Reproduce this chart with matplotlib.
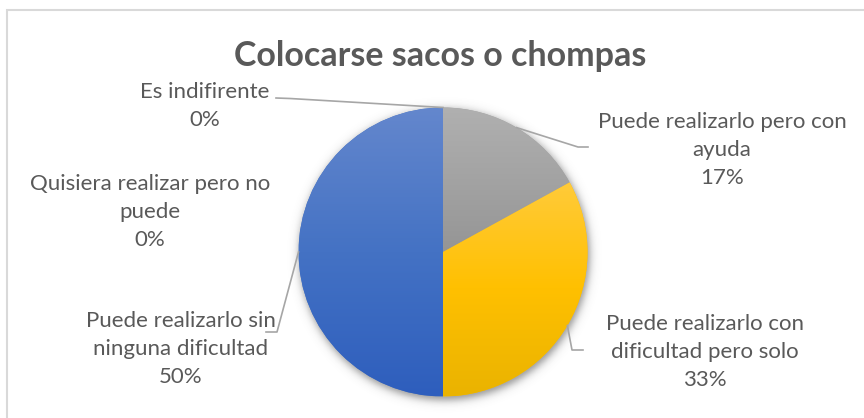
import numpy as np
import matplotlib.pyplot as plt
from matplotlib.colors import LinearSegmentedColormap

plt.rcParams['font.family'] = ['Lato', 'DejaVu Sans']

# Datos de la encuesta (orden horario desde las 12)
categorias = ['Puede realizarlo pero con\nayuda',
              'Puede realizarlo con\ndificultad pero solo',
              'Puede realizarlo sin\nninguna dificultad',
              'Quisiera realizar pero no\npuede',
              'Es indifirente']
porcentajes = [17, 33, 50, 0, 0]

# degradado vertical (arriba, medio, abajo) de cada porcion
degradados = [('#b0b0b0', '#a3a3a3', '#959595'),
              ('#ffcb3a', '#ffc000', '#eab300'),
              ('#6487cd', '#4472c4', '#2e5ebd')]

W, H = 864, 418
fig = plt.figure(figsize=(W / 100, H / 100), dpi=100)
ax = fig.add_axes([0, 0, 1, 1])

cx, cy, r = 443, H - 252, 144.5
gris_texto = '#595959'
gris_linea = '#a6a6a6'

# sombra suave bajo el pastel
ext = 25
xs = np.linspace(cx - r - ext, cx + r + ext, 400)
ys = np.linspace(cy - r - ext, cy + r + ext, 400)
XX, YY = np.meshgrid(xs, ys)
d = np.hypot(XX - (cx + 1), YY - (cy - 3))
alfa = 0.6 / (1 + np.exp((d - (r + 1)) / 2.5))
sombra = np.zeros(XX.shape + (4,))
sombra[..., :3] = 0.3
sombra[..., 3] = alfa
ax.imshow(sombra, extent=[xs[0], xs[-1], ys[0], ys[-1]], origin='lower',
          zorder=1, interpolation='bilinear')

wedges, _ = ax.pie(porcentajes, center=(cx, cy), radius=r, startangle=90,
                   counterclock=False, wedgeprops=dict(linewidth=0))

for w, cols in zip(wedges, degradados):
    w.set_facecolor(cols[1])
    w.set_zorder(2)
    pts = w.get_patch_transform().transform(w.get_path().vertices)
    y0, y1 = pts[:, 1].min(), pts[:, 1].max()
    cmap = LinearSegmentedColormap.from_list('g', [cols[2], cols[1], cols[0]])
    grad = np.linspace(0, 1, 256).reshape(-1, 1)
    im = ax.imshow(grad, extent=[cx - r, cx + r, y0, y1], origin='lower',
                   cmap=cmap, aspect='auto', zorder=3)
    im.set_clip_path(w)

ax.set_xlim(0, W)
ax.set_ylim(0, H)
ax.set_aspect('auto')
ax.axis('off')

# marco del grafico
ax.add_patch(plt.Rectangle((7, -10), W + 10, H - 10 + 10, fill=False,
                           edgecolor='#d9d9d9', linewidth=1.5, zorder=0))

ax.text(440, H - 56, 'Colocarse sacos o chompas', ha='center', va='center',
        fontsize=24.5, fontweight='bold', color=gris_texto)


def borde(w):
    ang = np.deg2rad((w.theta1 + w.theta2) / 2)
    return cx + r * np.cos(ang), cy + r * np.sin(ang)


# posicion de etiquetas y quiebres de las lineas guia (px desde arriba)
pos_etiquetas = [(722, 149.5), (705, 351.5), (181, 349), (150, 211.5), (205, 106.5)]
quiebres = [[(578, 147), (588, 147)],
            [(572, 350), (583, 350)],
            [(277, 332), (266, 332)],
            None,
            [(290, 98.5), (276, 98)]]

for w, cat, val, (px, py), q in zip(wedges, categorias, porcentajes, pos_etiquetas, quiebres):
    ax.text(px, H - py, f'{cat}\n{val}%', ha='center', va='center', fontsize=16,
            color=gris_texto, linespacing=1.5, zorder=5)
    if q is not None:
        x0, y0 = borde(w)
        lx = [x0] + [p[0] for p in q]
        ly = [y0] + [H - p[1] for p in q]
        ax.plot(lx, ly, color=gris_linea, linewidth=1.2, zorder=4)

fig.savefig('out.png', dpi=100)
